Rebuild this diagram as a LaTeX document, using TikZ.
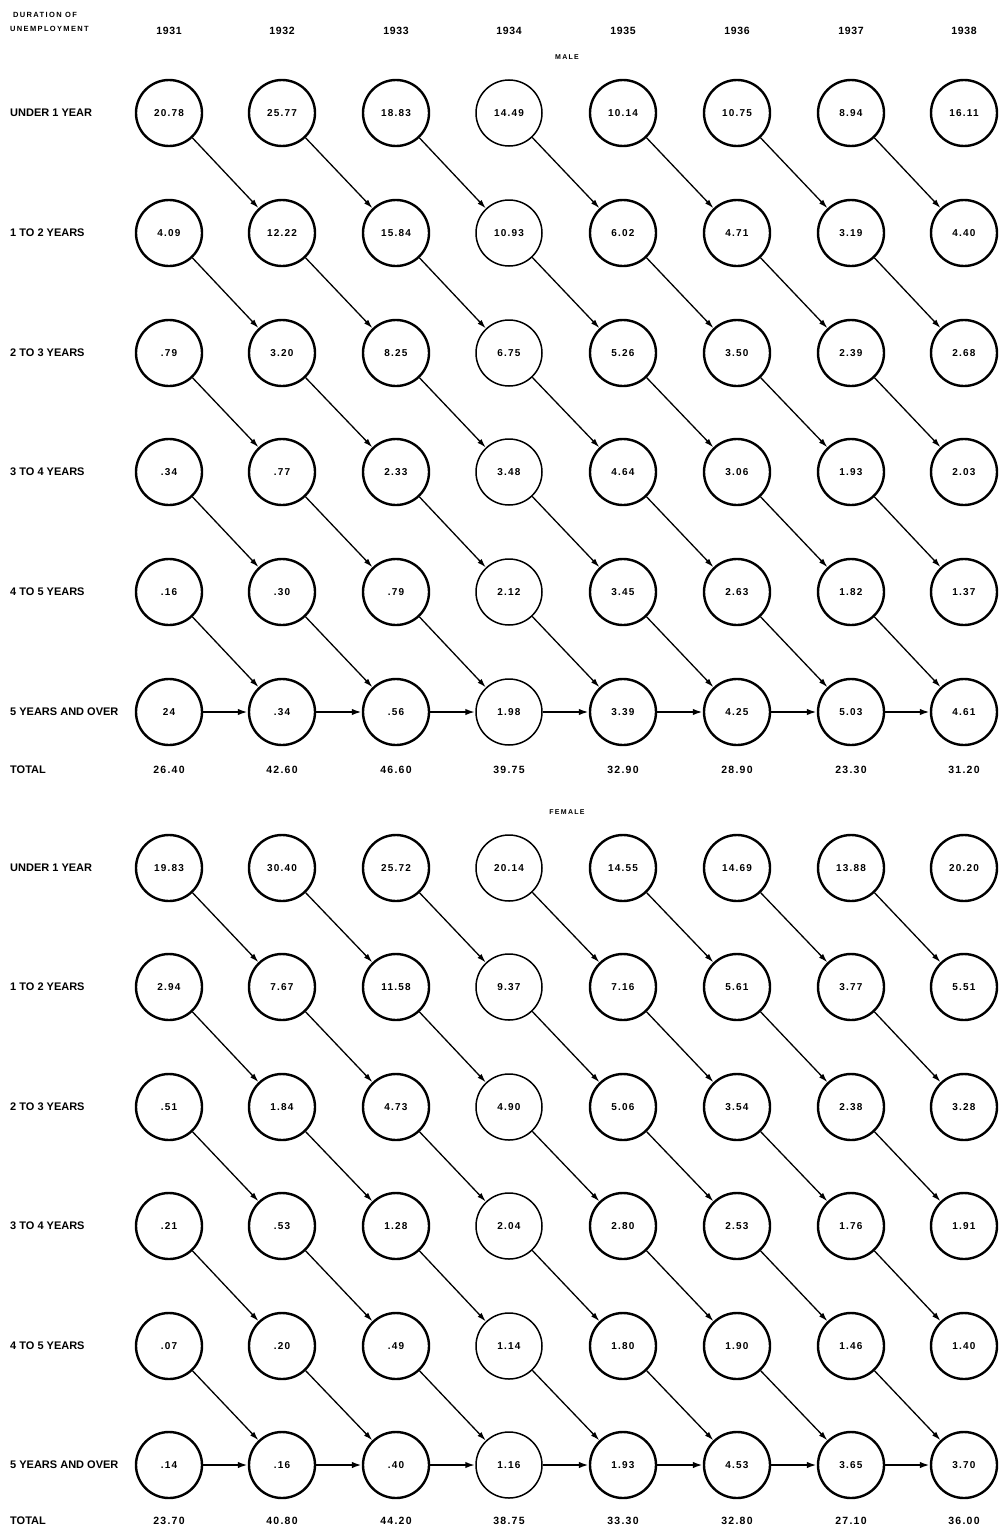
\documentclass[tikz,border=0pt]{standalone}
\usepackage{fontspec}
\setmainfont{Liberation Sans}
\newfontfamily\numf{Liberation Sans}[LetterSpace=12]
\newfontfamily\yrf{Liberation Sans}[LetterSpace=6]
\newfontfamily\smallf{Liberation Sans}[LetterSpace=18]
\usetikzlibrary{arrows.meta}
\begin{document}
\begin{tikzpicture}[x=1pt,y=-1pt,
  cir/.style={circle,draw,minimum size=66pt,inner sep=0pt,font=\fontsize{10}{11}\selectfont\bfseries\numf},
  rowlab/.style={anchor=west,inner sep=0pt,font=\fontsize{11}{12}\selectfont\bfseries},
  yearlab/.style={inner sep=0pt,font=\fontsize{10.5}{11}\selectfont\bfseries\yrf},
  totlab/.style={inner sep=0pt,font=\fontsize{10.5}{11}\selectfont\bfseries\numf},
  headlab/.style={anchor=west,inner sep=0pt,font=\fontsize{7.5}{8}\selectfont\bfseries\smallf},
  seclab/.style={inner sep=0pt,font=\fontsize{7}{8}\selectfont\bfseries\smallf},
  darr/.style={line width=1.3pt,-{Latex[length=9pt,width=5.5pt]}},
  harr/.style={line width=2.2pt,-{Latex[length=10pt,width=6.5pt]}}
]
\useasboundingbox (0,0) rectangle (999,1528);
\def\colx{{169,282,396,509,623,737,851,964}}
\def\mrows{{113,233,353,472,592,712}}
\def\frows{{868,987,1107,1226,1346,1465}}

% header
\node[headlab] (h1) at (13,15) {DURATION OF};
\node[headlab] (h2) at (10,29) {UNEMPLOYMENT};
\foreach \yr [count=\c] in {1931,1932,1933,1934,1935,1936,1937,1938}{
  \pgfmathsetmacro\xx{\colx[\c-1]}
  \node[yearlab] (yr-\c) at (\xx,31) {\yr};
}
\node[seclab] (male) at (567,57) {MALE};
\node[seclab] (female) at (567,812) {FEMALE};

% row labels
\foreach \lab [count=\r] in {UNDER 1 YEAR,1 TO 2 YEARS,2 TO 3 YEARS,3 TO 4 YEARS,4 TO 5 YEARS,5 YEARS AND OVER}{
  \pgfmathsetmacro\ym{\mrows[\r-1]}
  \pgfmathsetmacro\yf{\frows[\r-1]}
  \node[rowlab] (ml-\r) at (10,\ym) {\lab};
  \node[rowlab] (fl-\r) at (10,\yf) {\lab};
}
\node[rowlab] (mtl) at (10,770) {TOTAL};
\node[rowlab] (ftl) at (10,1521) {TOTAL};

% male circles
\foreach \vals [count=\r] in {
  {20.78,25.77,18.83,14.49,10.14,10.75,8.94,16.11},
  {4.09,12.22,15.84,10.93,6.02,4.71,3.19,4.40},
  {.79,3.20,8.25,6.75,5.26,3.50,2.39,2.68},
  {.34,.77,2.33,3.48,4.64,3.06,1.93,2.03},
  {.16,.30,.79,2.12,3.45,2.63,1.82,1.37},
  {24,.34,.56,1.98,3.39,4.25,5.03,4.61}}{
  \foreach \v [count=\c] in \vals {
    \pgfmathsetmacro\xx{\colx[\c-1]}
    \pgfmathsetmacro\yy{\mrows[\r-1]}
    \pgfmathsetmacro\lw{\c==4 ? 1.5 : 2.4}
    \node[cir,line width=\lw pt] (m-\r-\c) at (\xx,\yy) {\v};
  }
}
% female circles
\foreach \vals [count=\r] in {
  {19.83,30.40,25.72,20.14,14.55,14.69,13.88,20.20},
  {2.94,7.67,11.58,9.37,7.16,5.61,3.77,5.51},
  {.51,1.84,4.73,4.90,5.06,3.54,2.38,3.28},
  {.21,.53,1.28,2.04,2.80,2.53,1.76,1.91},
  {.07,.20,.49,1.14,1.80,1.90,1.46,1.40},
  {.14,.16,.40,1.16,1.93,4.53,3.65,3.70}}{
  \foreach \v [count=\c] in \vals {
    \pgfmathsetmacro\xx{\colx[\c-1]}
    \pgfmathsetmacro\yy{\frows[\r-1]}
    \pgfmathsetmacro\lw{\c==4 ? 1.5 : 2.4}
    \node[cir,line width=\lw pt] (f-\r-\c) at (\xx,\yy) {\v};
  }
}
% totals
\foreach \v [count=\c] in {26.40,42.60,46.60,39.75,32.90,28.90,23.30,31.20}{
  \pgfmathsetmacro\xx{\colx[\c-1]}
  \node[totlab] (mt-\c) at (\xx,770) {\v};
}
\foreach \v [count=\c] in {23.70,40.80,44.20,38.75,33.30,32.80,27.10,36.00}{
  \pgfmathsetmacro\xx{\colx[\c-1]}
  \node[totlab] (ft-\c) at (\xx,1521) {\v};
}
% arrows
\foreach \r in {1,...,5}{
  \foreach \c in {1,...,7}{
    \pgfmathtruncatemacro\rn{\r+1}
    \pgfmathtruncatemacro\cn{\c+1}
    \draw[darr] (m-\r-\c) -- (m-\rn-\cn);
    \draw[darr] (f-\r-\c) -- (f-\rn-\cn);
  }
}
\foreach \c in {1,...,7}{
  \pgfmathtruncatemacro\cn{\c+1}
  \draw[harr] (m-6-\c) -- (m-6-\cn);
  \draw[harr] (f-6-\c) -- (f-6-\cn);
}
\end{tikzpicture}
\end{document}
